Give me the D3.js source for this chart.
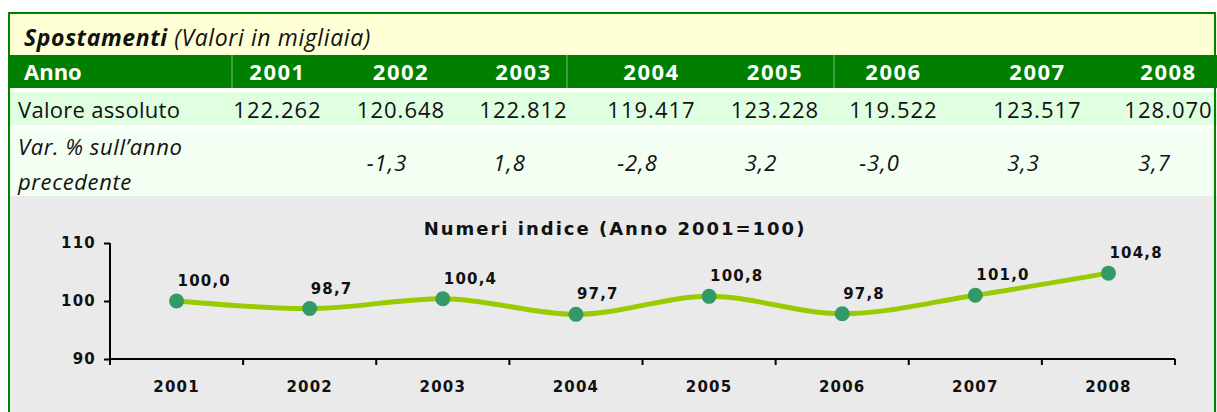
<!DOCTYPE html>
<html>
<head>
<meta charset="utf-8">
<script src="https://cdn.jsdelivr.net/npm/d3@7"></script>
<style>
  html, body { margin: 0; padding: 0; background: #ffffff; }
  svg { display: block; }
  .tbl { font-family: "Open Sans", "DejaVu Sans", sans-serif; }
  .axis text { font-family: "DejaVu Sans", sans-serif; font-weight: bold; font-size: 15px; letter-spacing: 1.2px; fill: #111; }
</style>
</head>
<body>
<div id="chart"></div>
<script>
// ---- data ----
const years = ['2001', '2002', '2003', '2004', '2005', '2006', '2007', '2008'];
const absValues = [122262, 120648, 122812, 119417, 123228, 119522, 123517, 128070];
const varPct = [null, -1.3, 1.8, -2.8, 3.2, -3.0, 3.3, 3.7];
const indexValues = [100.0, 98.7, 100.4, 97.7, 100.8, 97.8, 101.0, 104.8];
const yTicks = [90, 100, 110];

const tableTitle = 'Spostamenti';
const tableSubtitle = ' (Valori in migliaia)';
const chartTitle = 'Numeri indice (Anno 2001=100)';

// ---- layout ----
const W = 1217, H = 412;
const colEdges = [215, 340, 462, 585, 718, 832, 955, 1120, 1217]; // table column edges
const headerRules = [232, 567, 834];
const plot = { left: 110, right: 1175, top: 243, bottom: 359 };

const it = d3.formatLocale({ decimal: ',', thousands: '.', grouping: [3], currency: ['€', ''], minus: '-' });
const fmtAbs = it.format(',');
const fmtPct = it.format('.1f');

const svg = d3.select('#chart').append('svg')
    .attr('width', W)
    .attr('height', H);

// backgrounds
svg.append('rect').attr('x', 9).attr('y', 14).attr('width', W - 9).attr('height', 41).attr('fill', '#ffffd6');
svg.append('rect').attr('x', 9).attr('y', 55).attr('width', W - 9).attr('height', 33).attr('fill', '#007f00');
svg.append('rect').attr('x', 9).attr('y', 92).attr('width', W - 9).attr('height', 33).attr('fill', '#e0ffe0');
svg.append('rect').attr('x', 9).attr('y', 129).attr('width', W - 9).attr('height', 67).attr('fill', '#f2fff2');
svg.append('rect').attr('x', 9).attr('y', 196).attr('width', W - 9).attr('height', H - 196).attr('fill', '#eaeaea');

// outer border
svg.append('path')
    .attr('d', `M9,${H} V13 H${W - 2} V${H}`)
    .attr('fill', 'none')
    .attr('stroke', '#008000')
    .attr('stroke-width', 2);

// header separators
svg.selectAll('.hrule').data(headerRules).enter().append('line')
    .attr('x1', d => d).attr('x2', d => d)
    .attr('y1', 55).attr('y2', 88)
    .attr('stroke', '#7fbf7f').attr('stroke-width', 1);

const tbl = svg.append('g').attr('class', 'tbl');

// title
const title = tbl.append('text')
    .attr('x', 24).attr('y', 46)
    .attr('font-size', 23)
    .attr('font-style', 'italic')
    .attr('letter-spacing', 0.6)
    .attr('fill', '#111');
title.append('tspan').attr('font-weight', 'bold').text(tableTitle);
title.append('tspan').text(tableSubtitle);

const colCenter = i => (colEdges[i] + colEdges[i + 1]) / 2;

// header row
tbl.append('text').attr('x', 24).attr('y', 80)
    .attr('font-size', 22).attr('font-weight', 'bold').attr('fill', '#fff')
    .text('Anno');
tbl.selectAll('.yr').data(years).enter().append('text')
    .attr('x', (d, i) => colCenter(i)).attr('y', 80)
    .attr('text-anchor', 'middle')
    .attr('font-size', 22).attr('font-weight', 'bold').attr('fill', '#fff')
    .attr('letter-spacing', 1.5)
    .text(d => d);

// absolute values row
tbl.append('text').attr('x', 18).attr('y', 118)
    .attr('font-size', 22).attr('fill', '#111')
    .attr('letter-spacing', 0.3)
    .text('Valore assoluto');
tbl.selectAll('.abs').data(absValues).enter().append('text')
    .attr('x', (d, i) => colCenter(i)).attr('y', 118)
    .attr('text-anchor', 'middle')
    .attr('font-size', 22).attr('fill', '#111')
    .attr('letter-spacing', 1)
    .text(d => fmtAbs(d));

// var % row
const lab = tbl.append('text').attr('font-size', 22).attr('font-style', 'italic').attr('fill', '#111')
    .attr('letter-spacing', 0.6);
lab.append('tspan').attr('x', 18).attr('y', 155).text('Var. % sull\u2019anno');
lab.append('tspan').attr('x', 18).attr('y', 190).text('precedente');
tbl.selectAll('.pct').data(varPct).enter().filter(d => d !== null).append('text')
    .attr('x', d => colCenter(varPct.indexOf(d)) - 14)
    .attr('y', 171)
    .attr('text-anchor', 'middle')
    .attr('font-size', 22).attr('font-style', 'italic').attr('fill', '#111')
    .attr('letter-spacing', 1)
    .text(d => fmtPct(d));

// ---- chart ----
const x = d3.scaleBand().domain(years).range([plot.left, plot.right]);
const y = d3.scaleLinear().domain([90, 110]).range([plot.bottom, plot.top]);
const cx = d => x(d) + x.bandwidth() / 2;

svg.append('text')
    .attr('x', 615).attr('y', 235)
    .attr('text-anchor', 'middle')
    .attr('font-family', '"DejaVu Sans", sans-serif')
    .attr('font-weight', 'bold').attr('font-size', 18)
    .attr('letter-spacing', 2)
    .attr('fill', '#111')
    .text(chartTitle);

const yAxis = svg.append('g').attr('class', 'axis')
    .attr('transform', `translate(${plot.left},0)`)
    .call(d3.axisLeft(y).tickValues(yTicks).tickSize(6).tickPadding(8));
const xAxis = svg.append('g').attr('class', 'axis')
    .attr('transform', `translate(0,${plot.bottom})`)
    .call(d3.axisBottom(x).tickSize(0).tickPadding(22));
// band boundary ticks
xAxis.selectAll('.btick').data(d3.range(years.length + 1)).enter().append('line')
    .attr('x1', i => plot.left + i * x.bandwidth())
    .attr('x2', i => plot.left + i * x.bandwidth())
    .attr('y1', 0).attr('y2', 6)
    .attr('stroke', '#000').attr('stroke-width', 2);
svg.selectAll('.axis .domain').attr('stroke', '#000').attr('stroke-width', 2);
svg.selectAll('.axis .tick line').attr('stroke', '#000').attr('stroke-width', 2);
yAxis.selectAll('.domain').attr('d', `M0,${plot.top}V${plot.bottom}`);
xAxis.selectAll('.domain').attr('d', `M${plot.left},0H${plot.right}`);

const line = d3.line()
    .x((d, i) => cx(years[i]))
    .y(d => y(d))
    .curve(d3.curveMonotoneX);

svg.append('path')
    .datum(indexValues)
    .attr('d', line)
    .attr('fill', 'none')
    .attr('stroke', '#99cc00')
    .attr('stroke-width', 5)
    .attr('stroke-linejoin', 'round');

svg.selectAll('.pt').data(indexValues).enter().append('circle')
    .attr('cx', (d, i) => cx(years[i]))
    .attr('cy', d => y(d))
    .attr('r', 7.5)
    .attr('fill', '#339966');

svg.selectAll('.lbl').data(indexValues).enter().append('text')
    .attr('x', (d, i) => cx(years[i]) + 1)
    .attr('y', d => y(d) - 15)
    .attr('font-family', '"DejaVu Sans", sans-serif')
    .attr('font-weight', 'bold').attr('font-size', 15)
    .attr('letter-spacing', 1.2)
    .attr('fill', '#111')
    .text(d => fmtPct(d));
</script>
</body>
</html>
